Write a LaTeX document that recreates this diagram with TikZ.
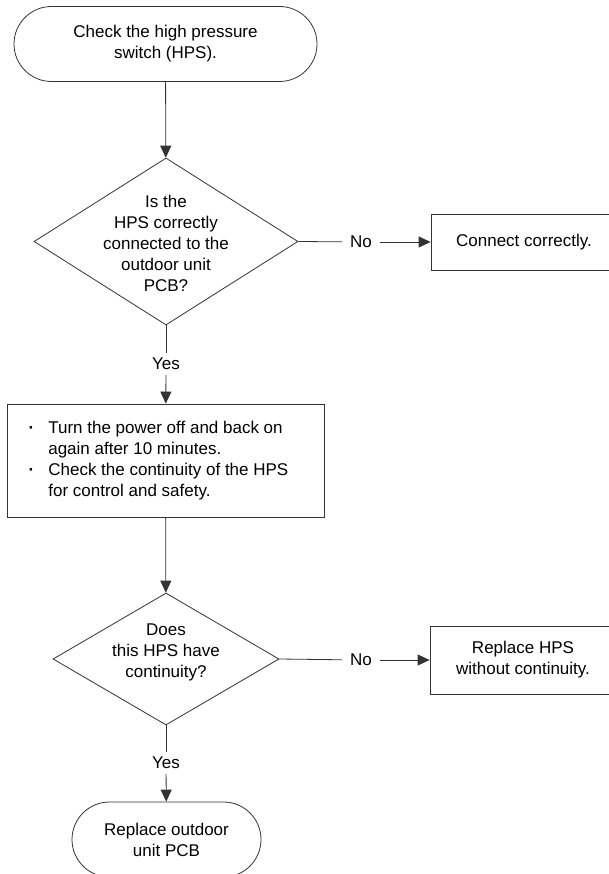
\documentclass[tikz,border=0pt]{standalone}
\usepackage{fontspec}
\setmainfont{Liberation Sans}
\usetikzlibrary{shapes.geometric,shapes.misc,arrows.meta}

\begin{document}
\begin{tikzpicture}[x=1pt,y=-1pt,
        every node/.style={font=\fontsize{17pt}{21pt}\selectfont},
        line/.style={draw=black!80,line width=0.8pt},
        arrow/.style={line,-{Triangle[length=12pt,width=11pt]}},
        terminal/.style={rounded rectangle,line,align=center,inner sep=0pt,minimum height=75pt},
        decision/.style={diamond,line,inner sep=0pt},
        process/.style={rectangle,line,align=center,inner sep=0pt},
        answer/.style={inner xsep=8pt,inner ysep=5pt}]

    \useasboundingbox (0,0) rectangle (608,874);

    \node[terminal,minimum width=303pt] (start) at (165.5,44) {Check the high pressure\\switch (HPS).};

    \node[decision,minimum width=264pt,minimum height=167pt] (conn) at (166,241.5) {};
    \node[align=center] (conntext) at (166,243) {Is the\\HPS correctly\\connected to the\\outdoor unit\\PCB?};

    \node[answer] (no1) at (361,242) {No};
    \node[process,minimum width=186pt,minimum height=56pt] (fix) at (524,242) {Connect correctly.};

    \node[answer] (yes1) at (166,364) {Yes};
    \node[process,minimum width=317pt,minimum height=113pt] (check) at (165.5,460.5) {%
        \begin{tabular}{@{}l@{\hspace{14pt}}l@{}}
        \textbf{·} & Turn the power off and back on\\
                   & again after 10 minutes.\\
        \textbf{·} & Check the continuity of the HPS\\
                   & for control and safety.
        \end{tabular}\hspace{14pt}};

    \node[decision,minimum width=226pt,minimum height=132pt] (cont) at (166,659) {};
    \node[align=center] (conttext) at (166,652) {Does\\this HPS have\\continuity?};

    \node[answer] (no2) at (361,660) {No};
    \node[process,minimum width=186pt,minimum height=68pt] (swap) at (523,660) {Replace HPS\\without continuity.};

    \node[answer] (yes2) at (166,763) {Yes};
    \node[terminal,minimum width=189pt] (finish) at (166.5,839.5) {Replace outdoor\\unit PCB};

    \draw[arrow] (start) -- (conn);
    \draw[line] (conn.east) -- (no1);
    \draw[arrow] (no1) -- (fix);
    \draw[line] (conn.south) -- (yes1);
    \draw[arrow] (yes1) -- (check);
    \draw[arrow] (check) -- (cont);
    \draw[line] (cont.east) -- (no2);
    \draw[arrow] (no2) -- (swap);
    \draw[line] (cont.south) -- (yes2);
    \draw[arrow] (yes2) -- (finish);
\end{tikzpicture}
\end{document}
